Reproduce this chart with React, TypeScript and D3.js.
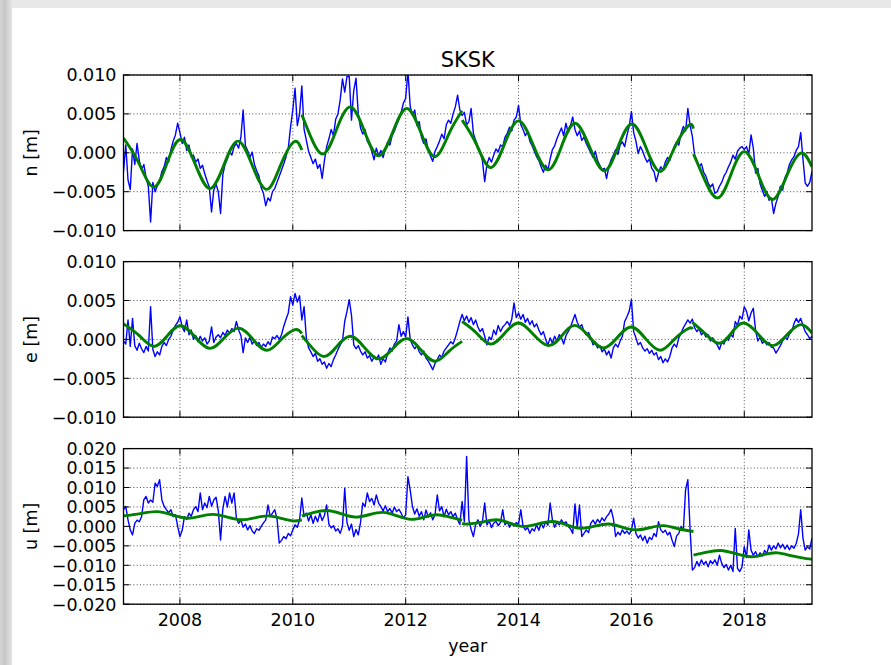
import React from 'react';
import * as d3 from 'd3';

// ---------- DATA ----------
const epochs = [
  2007.00,2007.04,2007.08,2007.12,2007.16,2007.20,2007.24,2007.28,2007.32,2007.36,2007.40,2007.44,2007.48,2007.52,2007.56,2007.60,2007.64,2007.68,2007.72,2007.76,2007.80,2007.84,2007.88,2007.92,2007.96,
  2008.00,2008.04,2008.08,2008.12,2008.16,2008.20,2008.24,2008.28,2008.32,2008.36,2008.40,2008.44,2008.48,2008.52,2008.56,2008.60,2008.64,2008.68,2008.72,2008.76,2008.80,2008.84,2008.88,2008.92,2008.96,
  2009.00,2009.04,2009.08,2009.12,2009.16,2009.20,2009.24,2009.28,2009.32,2009.36,2009.40,2009.44,2009.48,2009.52,2009.56,2009.60,2009.64,2009.68,2009.72,2009.76,2009.80,2009.84,2009.88,2009.92,2009.96,
  2010.00,2010.04,2010.08,2010.12,2010.16,2010.20,2010.24,2010.28,2010.32,2010.36,2010.40,2010.44,2010.48,2010.52,2010.56,2010.60,2010.64,2010.68,2010.72,2010.76,2010.80,2010.84,2010.88,2010.92,2010.96,
  2011.00,2011.04,2011.08,2011.12,2011.16,2011.20,2011.24,2011.28,2011.32,2011.36,2011.40,2011.44,2011.48,2011.52,2011.56,2011.60,2011.64,2011.68,2011.72,2011.76,2011.80,2011.84,2011.88,2011.92,2011.96,
  2012.00,2012.04,2012.08,2012.12,2012.16,2012.20,2012.24,2012.28,2012.32,2012.36,2012.40,2012.44,2012.48,2012.52,2012.56,2012.60,2012.64,2012.68,2012.72,2012.76,2012.80,2012.84,2012.88,2012.92,2012.96,
  2013.00,2013.04,2013.08,2013.12,2013.16,2013.20,2013.24,2013.28,2013.32,2013.36,2013.40,2013.44,2013.48,2013.52,2013.56,2013.60,2013.64,2013.68,2013.72,2013.76,2013.80,2013.84,2013.88,2013.92,2013.96,
  2014.00,2014.04,2014.08,2014.12,2014.16,2014.20,2014.24,2014.28,2014.32,2014.36,2014.40,2014.44,2014.48,2014.52,2014.56,2014.60,2014.64,2014.68,2014.72,2014.76,2014.80,2014.84,2014.88,2014.92,2014.96,
  2015.00,2015.04,2015.08,2015.12,2015.16,2015.20,2015.24,2015.28,2015.32,2015.36,2015.40,2015.44,2015.48,2015.52,2015.56,2015.60,2015.64,2015.68,2015.72,2015.76,2015.80,2015.84,2015.88,2015.92,2015.96,
  2016.00,2016.04,2016.08,2016.12,2016.16,2016.20,2016.24,2016.28,2016.32,2016.36,2016.40,2016.44,2016.48,2016.52,2016.56,2016.60,2016.64,2016.68,2016.72,2016.76,2016.80,2016.84,2016.88,2016.92,2016.96,
  2017.00,2017.04,2017.08,2017.12,2017.16,2017.20,2017.24,2017.28,2017.32,2017.36,2017.40,2017.44,2017.48,2017.52,2017.56,2017.60,2017.64,2017.68,2017.72,2017.76,2017.80,2017.84,2017.88,2017.92,2017.96,
  2018.00,2018.04,2018.08,2018.12,2018.16,2018.20,2018.24,2018.28,2018.32,2018.36,2018.40,2018.44,2018.48,2018.52,2018.56,2018.60,2018.64,2018.68,2018.72,2018.76,2018.80,2018.84,2018.88,2018.92,2018.96,
  2019.00,2019.04,2019.08,2019.12,2019.16,2019.20,
];

// observed north component (mm)
const nObsMm = [
  -2.4,1.0,-3.5,-4.7,0.5,-1.5,1.2,-1.0,-2.2,-1.5,-3.2,-4.3,-8.9,-3.8,-5.0,-4.2,-3.6,-2.4,-1.8,-0.6,-1.2,0.4,1.5,2.3,3.8,
  2.6,1.2,2.0,0.3,1.0,-0.5,-0.3,-1.2,-0.8,-2.0,-1.6,-2.7,-3.6,-4.4,-7.6,-4.8,-4.0,-5.0,-7.8,-2.8,-1.5,-0.8,0.2,-0.3,0.8,
  1.2,0.6,2.0,5.5,0.9,0.3,-0.6,0.1,-1.5,-2.3,-3.0,-4.5,-5.2,-6.8,-5.8,-6.2,-5.0,-4.6,-3.8,-3.0,-2.2,-1.4,-0.5,0.6,3.3,
  5.5,8.3,3.5,5.0,8.6,3.0,1.6,0.2,-0.6,-1.4,-0.8,-2.0,-1.5,-3.3,-1.0,0.8,1.8,3.0,2.2,4.3,5.0,6.8,9.5,7.8,9.8,
  9.8,4.2,8.0,9.6,5.0,3.2,2.4,3.0,1.5,1.0,0.2,-0.9,0.6,-0.4,0.3,-0.6,0.5,1.4,1.0,2.2,2.8,3.6,4.3,5.2,6.4,
  7.0,10.5,6.0,4.8,5.5,3.5,4.0,2.0,1.2,1.8,0.3,-0.4,-1.1,0.2,0.8,1.5,2.4,1.8,3.6,4.2,3.8,5.0,5.9,7.4,5.5,
  4.8,5.2,3.6,4.0,5.7,2.5,1.6,0.8,0.2,-1.0,-3.7,-1.5,-0.6,-1.2,-0.3,0.5,0.1,1.0,0.8,2.0,2.5,3.3,2.8,4.2,4.6,
  6.1,3.6,3.0,2.2,2.8,1.5,0.9,0.2,-0.5,-1.0,-1.8,-2.5,-1.6,-2.2,-0.8,0.4,0.9,1.8,2.5,3.2,2.2,3.8,2.6,3.5,4.6,
  3.0,2.2,2.8,1.6,2.0,1.2,0.6,0.0,-0.6,0.2,-1.0,-1.6,-2.2,-2.0,-3.3,-1.8,-0.9,-0.3,0.4,-0.2,1.0,1.4,0.8,2.2,3.4,
  5.3,2.6,1.5,-0.1,0.8,0.2,-0.6,-1.2,-0.8,-2.0,-2.4,-3.7,-2.6,-1.8,-2.2,-1.2,-0.6,-1.0,0.0,0.8,1.4,1.0,2.5,3.4,2.8,
  5.7,3.5,2.1,-0.3,-1.0,-1.8,-1.4,-2.5,-3.0,-3.9,-4.4,-4.0,-5.2,-5.0,-4.3,-3.8,-3.0,-2.5,-1.8,-1.2,-0.3,-0.8,0.2,0.6,0.8,
  0.4,0.8,-0.2,2.3,0.6,-2.6,-2.0,-4.0,-4.8,-5.6,-5.0,-6.1,-5.8,-7.8,-6.5,-5.6,-4.3,-4.8,-3.2,-2.6,-1.5,-0.9,-0.5,0.3,0.8,
  2.6,-0.8,-3.9,-4.3,-3.8,-2.4,
];

// observed east component (mm)
const eObsMm = [
  -0.2,-0.6,2.5,-0.9,2.7,-0.8,-1.4,-0.5,-1.2,-1.7,-0.9,-1.5,4.2,-1.3,-2.2,-1.6,-2.0,-0.9,-0.4,-0.8,0.0,0.4,1.2,1.8,2.2,
  2.9,1.6,1.0,2.5,0.6,1.2,0.0,0.5,-0.3,0.4,-0.2,0.2,-0.6,-0.2,1.6,-0.4,0.3,0.6,0.2,0.9,0.5,1.2,0.8,1.4,1.0,
  2.3,1.2,0.5,-1.7,0.2,-0.4,0.3,-0.6,-0.2,-0.8,-0.4,-1.0,-0.6,-0.9,-0.3,-0.7,0.3,0.1,0.5,0.0,0.6,1.7,2.6,3.4,5.5,
  4.4,5.9,4.8,5.6,2.5,4.2,0.2,-1.1,-1.6,-2.2,-1.8,-2.8,-2.5,-3.2,-2.9,-3.7,-3.1,-3.5,-2.6,-2.0,-1.3,-0.7,-0.2,2.3,3.6,
  5.1,3.1,-0.7,-1.2,-0.8,-1.5,-2.0,-1.6,-2.4,-2.1,-2.8,-2.3,-2.6,-2.0,-3.2,-2.5,-2.9,-1.8,-1.1,-1.5,-0.6,-0.2,1.9,0.4,1.0,
  0.3,2.9,0.0,-0.7,-1.2,-0.8,-1.6,-2.0,-1.5,-2.4,-2.8,-3.3,-3.9,-3.1,-2.6,-2.0,-2.3,-1.5,-1.1,-0.7,-0.3,-0.6,0.2,1.2,2.3,
  3.2,2.4,3.0,2.2,2.8,1.9,2.5,1.6,1.0,1.4,0.4,-0.7,0.3,0.0,1.2,0.6,1.8,1.0,1.6,1.9,2.3,1.8,2.6,4.7,2.8,
  3.4,2.6,3.2,2.2,2.7,1.9,2.4,1.6,2.0,1.2,0.6,1.0,0.0,-0.7,0.2,-0.5,0.4,-0.2,0.6,0.2,-0.6,0.5,1.0,1.6,2.4,
  3.2,2.2,1.6,1.9,1.0,0.6,0.9,0.2,-0.7,-0.3,-1.1,-0.8,-1.6,-1.2,-2.0,-1.5,-2.4,-1.1,-0.6,-1.0,-0.2,0.4,2.3,2.9,3.6,
  5.1,1.0,0.2,-0.7,-0.4,-1.1,-1.5,-1.2,-1.8,-1.4,-2.0,-1.7,-2.6,-2.2,-3.0,-2.5,-2.9,-2.2,-1.1,-0.6,-1.0,0.2,0.8,1.5,2.0,
  2.5,2.1,2.6,1.5,1.0,1.4,0.6,0.9,0.3,0.6,-0.2,0.2,-0.4,-0.7,-1.3,-0.4,-0.6,0.2,-0.1,0.6,0.3,2.3,1.8,3.0,2.6,
  4.2,3.6,2.4,3.4,4.0,1.2,-0.2,0.3,-0.5,-0.2,-0.7,-0.4,-1.0,-1.1,-1.75,-1.3,-0.8,-0.2,0.3,0.0,0.7,1.0,2.0,2.7,2.2,
  2.7,1.8,1.0,0.6,0.1,0.4,
];

// observed up component (mm)
const uObsMm = [
  4.3,5.1,1.7,-0.9,-2.2,0.8,1.6,1.2,2.5,6.8,7.7,6.0,6.8,6.2,11.1,10.3,12.0,6.8,5.2,4.3,3.5,4.3,2.5,3.0,0.0,
  -2.6,-1.0,2.5,1.8,3.4,2.6,4.3,5.1,3.8,8.6,4.3,6.0,4.8,7.7,5.2,6.8,7.5,4.0,-3.5,4.5,7.7,5.0,8.6,6.0,8.6,
  2.2,0.8,1.7,-0.2,0.6,-0.9,0.2,-1.2,-1.8,-0.6,-1.0,0.0,0.9,1.6,5.5,2.5,3.4,4.3,2.0,-4.3,-3.6,-2.6,-3.2,-1.8,-2.4,
  -0.9,0.4,-0.2,1.7,7.3,2.5,3.4,1.4,3.0,0.8,2.6,1.2,3.4,1.5,2.8,5.5,0.5,-0.4,0.2,-1.2,-0.6,-1.8,0.0,9.8,1.0,
  -1.0,0.6,-2.6,-0.8,-2.2,1.0,6.0,5.1,8.6,6.4,7.2,5.5,8.1,6.0,5.1,4.0,5.3,3.8,4.6,3.4,5.0,3.8,4.4,3.4,2.1,
  3.0,12.8,9.4,5.1,3.2,4.5,2.6,3.8,1.7,4.2,2.4,3.5,1.7,3.0,8.1,4.0,5.1,2.5,4.4,3.0,3.8,2.5,3.4,1.7,0.5,
  6.4,1.2,18.0,1.7,-0.8,-2.6,0.5,1.7,0.0,1.2,6.0,0.4,1.5,-0.3,0.8,1.3,0.2,1.0,4.3,0.4,1.2,-0.2,0.9,0.1,1.0,
  0.5,4.3,0.0,-0.9,-0.3,-1.8,-0.6,-1.2,0.4,-1.0,0.8,-0.4,1.2,0.3,6.0,1.7,-0.2,1.0,0.4,1.7,0.8,1.2,0.0,-0.6,-1.8,
  5.8,-0.4,5.5,-2.6,-1.8,-0.9,-1.6,0.8,1.6,0.6,1.8,1.0,2.2,1.4,2.5,3.2,4.4,2.0,-2.6,-1.5,-2.2,-0.9,-1.8,-1.2,-2.0,
  -1.0,2.1,-1.8,-3.0,-2.2,-3.6,-2.5,-4.3,-2.8,-3.4,-1.8,-2.6,1.2,-0.9,-1.6,-1.0,-2.2,-1.5,-3.5,-5.2,-2.5,-1.8,0.0,-1.0,9.4,
  12.0,-0.9,-11.2,-10.6,-9.0,-10.2,-8.6,-9.8,-9.0,-10.4,-8.8,-9.6,-8.6,-10.0,-7.4,-9.5,-10.6,-9.8,-11.2,-10.0,-11.6,-0.5,-10.8,-11.6,-10.4,
  -5.2,-8.0,-0.9,-6.1,-7.4,-6.5,-7.8,-6.8,-7.6,-6.2,-7.0,-4.8,-6.1,-5.0,-5.8,-4.3,-5.5,-4.6,-5.8,-4.8,-6.0,-5.0,-5.6,-4.4,-2.0,
  4.3,-3.0,-6.1,-5.2,-5.8,-3.0,
];

// fitted model segments (year, mm)
const nFit = [
  [[2007.0,1.9],[2007.27,-1.3],[2007.53,-4.4],[2007.77,-1.35],[2008.01,1.7],[2008.27,-1.45],[2008.53,-4.6],[2008.78,-1.55],[2009.03,1.5],[2009.28,-1.6],[2009.54,-4.7],[2009.78,-1.65],[2010.02,1.4],[2010.16,0.35]],
  [[2010.16,4.9],[2010.27,2.9],[2010.52,-0.15],[2010.77,2.9],[2011.02,5.9],[2011.27,2.75],[2011.52,-0.4],[2011.77,2.65],[2012.02,5.7],[2012.27,2.6],[2012.52,-0.5],[2012.77,2.5],[2013.0,5.4]],
  [[2013.0,4.2],[2013.25,1.15],[2013.5,-1.9],[2013.75,1.1],[2014.0,4.1],[2014.26,1.0],[2014.52,-2.2],[2014.76,0.8],[2015.0,3.8],[2015.26,0.75],[2015.52,-2.3],[2015.76,0.7],[2016.01,3.7],[2016.26,0.65],[2016.51,-2.4],[2016.76,0.6],[2017.01,3.5],[2017.1,3.1]],
  [[2017.1,-0.15],[2017.27,-3.0],[2017.52,-5.8],[2017.76,-2.85],[2018.0,0.15],[2018.25,-2.9],[2018.5,-6.0],[2018.75,-3.0],[2019.0,-0.05],[2019.2,-1.8]],
];
const eFit = [
  [[2007.0,2.0],[2007.27,0.55],[2007.53,-0.9],[2007.77,0.4],[2008.01,1.75],[2008.27,0.3],[2008.53,-1.15],[2008.78,0.15],[2009.04,1.45],[2009.29,0.05],[2009.54,-1.4],[2009.79,-0.05],[2010.04,1.25],[2010.16,0.75]],
  [[2010.16,0.5],[2010.32,-0.9],[2010.55,-2.2],[2010.78,-0.9],[2011.02,0.4],[2011.27,-1.05],[2011.52,-2.5],[2011.77,-1.2],[2012.02,0.1],[2012.27,-1.35],[2012.52,-2.8],[2012.77,-1.5],[2013.0,-0.25]],
  [[2013.0,2.3],[2013.25,0.85],[2013.5,-0.6],[2013.75,0.75],[2014.0,2.1],[2014.26,0.65],[2014.53,-0.8],[2014.77,0.5],[2015.0,1.8],[2015.25,0.35],[2015.5,-1.1],[2015.75,0.25],[2016.0,1.6],[2016.25,0.1],[2016.51,-1.4],[2016.76,0.0],[2017.01,1.4],[2017.08,1.3]],
  [[2017.08,2.2],[2017.3,0.8],[2017.55,-0.5],[2017.77,0.8],[2017.99,2.1],[2018.25,0.65],[2018.5,-0.8],[2018.75,0.55],[2019.0,1.9],[2019.2,0.8]],
];
const uFit = [
  [[2007.0,2.7],[2007.3,3.3],[2007.59,3.8],[2007.85,3.0],[2008.12,2.1],[2008.35,2.6],[2008.59,3.1],[2008.84,2.4],[2009.09,1.7],[2009.33,2.2],[2009.57,2.7],[2009.8,2.05],[2010.01,1.4],[2010.16,1.7]],
  [[2010.16,2.7],[2010.38,3.6],[2010.6,4.1],[2010.85,3.3],[2011.1,2.4],[2011.35,3.0],[2011.6,3.6],[2011.85,2.7],[2012.1,1.8],[2012.33,2.4],[2012.55,3.0],[2012.75,2.5],[2013.0,1.6]],
  [[2013.0,0.8],[2013.1,0.6],[2013.35,1.1],[2013.6,1.7],[2013.83,0.9],[2014.07,0.0],[2014.33,0.6],[2014.6,1.25],[2014.85,0.4],[2015.09,-0.5],[2015.35,0.05],[2015.6,0.6],[2015.83,-0.2],[2016.07,-0.9],[2016.32,-0.35],[2016.57,0.2],[2016.83,-0.6],[2017.1,-1.3]],
  [[2017.1,-7.4],[2017.34,-6.6],[2017.58,-6.2],[2017.85,-7.0],[2018.12,-7.8],[2018.36,-7.2],[2018.59,-6.8],[2018.85,-7.6],[2019.1,-8.3],[2019.2,-8.4]],
];

const xTicks = [2008, 2010, 2012, 2014, 2016, 2018];
const neTicks = [-0.010, -0.005, 0.000, 0.005, 0.010];
const uTicks = [-0.020, -0.015, -0.010, -0.005, 0.000, 0.005, 0.010, 0.015, 0.020];
const panelLabels = ['n [m]', 'e [m]', 'u [m]'];
const titleText = 'SKSK';
const xLabelText = 'year';

// ---------- LAYOUT ----------
const W = 891, H = 665;
const L = 123.5, R = 812;
const tops = [75, 261.6, 448.6];
const PH = 155.6;
const FONT = 'DejaVu Sans, Verdana, sans-serif';
const FS = 17.5;

const fmt = (v: number) => d3.format('.3f')(v).replace('-', '\u2212');

export default function App() {
  const x = d3.scaleLinear().domain([2007, 2019.2]).range([L, R]);
  const panels = [
    { obs: nObsMm, fit: nFit, ticks: neTicks, dom: [-0.010, 0.010] },
    { obs: eObsMm, fit: eFit, ticks: neTicks, dom: [-0.010, 0.010] },
    { obs: uObsMm, fit: uFit, ticks: uTicks, dom: [-0.020, 0.020] },
  ];
  return (
    <div style={{ position: 'fixed', left: 0, top: 0, width: W, height: H }}>
      <svg width={W} height={H} style={{ display: 'block' }}>
        <defs>
          <linearGradient id="lg" x1="0" x2="1" y1="0" y2="0">
            <stop offset="0" stopColor="#d4d4d4" />
            <stop offset="0.4" stopColor="#c6c6c6" />
            <stop offset="1" stopColor="#e4e4e4" />
          </linearGradient>
          {panels.map((p, i) => (
            <clipPath id={`clip${i}`} key={i}>
              <rect x={L} y={tops[i]} width={R - L} height={PH} />
            </clipPath>
          ))}
        </defs>
        <rect x={0} y={0} width={W} height={H} fill="#e8e8e8" />
        <rect x={0} y={0} width={12} height={H} fill="url(#lg)" />
        <rect x={12} y={8} width={W - 12} height={H - 8} fill="#ffffff" />

        <text x={(L + R) / 2} y={66.5} textAnchor="middle" fontFamily={FONT} fontSize={21} fill="#000">{titleText}</text>

        {panels.map((p, i) => {
          const top = tops[i], bot = top + PH;
          const y = d3.scaleLinear().domain(p.dom).range([bot, top]);
          const obsLine = d3.line<number>()
            .x((_, k) => x(epochs[k]))
            .y(d => y(d / 1000));
          const fitLine = d3.line<number[]>()
            .x(d => x(d[0]))
            .y(d => y(d[1] / 1000))
            .curve(d3.curveNatural);
          return (
            <g key={i}>
              {/* grid */}
              <g stroke="#000" strokeWidth={0.7} strokeDasharray="1,2.3">
                {xTicks.map(t => (
                  <line key={'gx' + t} x1={x(t)} x2={x(t)} y1={top} y2={bot} />
                ))}
                {p.ticks.map(t => (
                  <line key={'gy' + t} x1={L} x2={R} y1={y(t)} y2={y(t)} />
                ))}
              </g>
              <g clipPath={`url(#clip${i})`}>
                <path d={obsLine(p.obs) || ''} fill="none" stroke="#0000ff" strokeWidth={1.4} strokeLinejoin="round" />
                {p.fit.map((seg, s) => (
                  <path key={s} d={fitLine(seg as number[][]) || ''} fill="none" stroke="#008000" strokeWidth={2.9} strokeLinecap="butt" />
                ))}
              </g>
              {/* ticks */}
              <g stroke="#000" strokeWidth={1}>
                {xTicks.map(t => (
                  <g key={'tx' + t}>
                    <line x1={x(t)} x2={x(t)} y1={top} y2={top + 6} />
                    <line x1={x(t)} x2={x(t)} y1={bot} y2={bot - 6} />
                  </g>
                ))}
                {p.ticks.map(t => (
                  <g key={'ty' + t}>
                    <line x1={L} x2={L + 6} y1={y(t)} y2={y(t)} />
                    <line x1={R} x2={R - 6} y1={y(t)} y2={y(t)} />
                  </g>
                ))}
              </g>
              <rect x={L} y={top} width={R - L} height={PH} fill="none" stroke="#000" strokeWidth={1.3} />
              {/* y tick labels */}
              {p.ticks.map(t => (
                <text key={'ly' + t} x={116.5} y={y(t)} dy="0.36em" textAnchor="end" fontFamily={FONT} fontSize={FS} fill="#000">{fmt(t)}</text>
              ))}
              <text transform={`translate(${31},${(top + bot) / 2}) rotate(-90)`} textAnchor="middle" dy="0.36em" fontFamily={FONT} fontSize={FS} fill="#000">{panelLabels[i]}</text>
              {i === 2 && xTicks.map(t => (
                <text key={'lx' + t} x={x(t)} y={626} textAnchor="middle" fontFamily={FONT} fontSize={FS} fill="#000">{String(t)}</text>
              ))}
            </g>
          );
        })}
        <text x={(L + R) / 2} y={652} textAnchor="middle" fontFamily={FONT} fontSize={FS} fill="#000">{xLabelText}</text>
      </svg>
    </div>
  );
}
